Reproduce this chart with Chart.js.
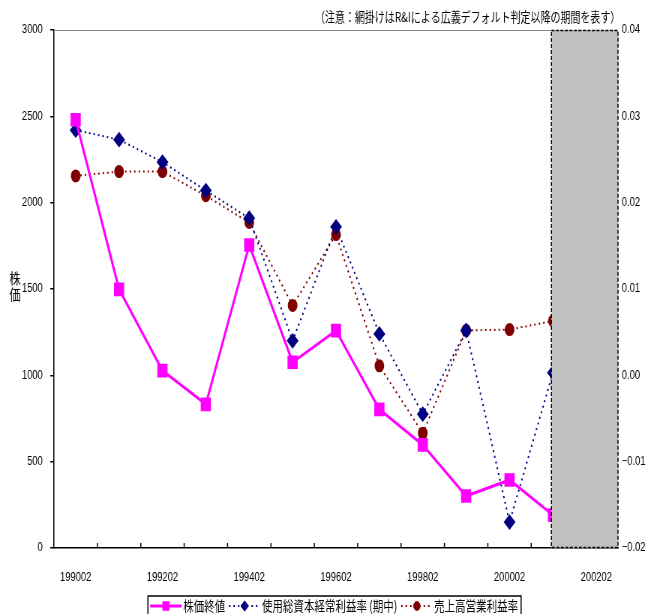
<!DOCTYPE html>
<html>
<head>
<meta charset="utf-8">
<script src="https://cdn.jsdelivr.net/npm/chart.js@4/dist/chart.umd.min.js"></script>
<style>
  html, body { margin: 0; padding: 0; background: #fff; overflow: hidden; }
  #wrap { width: 649px; height: 614px; overflow: hidden; }
  /* the chart is drawn wide and squeezed sideways, like the narrow original */
  #box { width: 865px; height: 614px; transform: scaleX(0.75); transform-origin: 0 0; }
</style>
</head>
<body>
<div id="wrap"><div id="box"><canvas id="grafico"></canvas></div></div>
<script>
const periodos = ['199002','199102','199202','199302','199402','199502','199602','199702','199802','199902','200002','200102','200202']
const kabukaShuuchi = [2480, 1498, 1027, 832, 1755, 1076, 1259, 803, 597, 301, 394, 191, null]
const soushihonRieki = [0.0284, 0.0273, 0.0247, 0.0214, 0.0182, 0.0040, 0.0172, 0.0048, -0.0045, 0.0052, -0.0170, 0.0003, null]
const uriageRieki = [0.0231, 0.0236, 0.0236, 0.0208, 0.0177, 0.0081, 0.0163, 0.0011, -0.0067, 0.0052, 0.0053, 0.0063, null]
const ticksEsq = [0, 500, 1000, 1500, 2000, 2500, 3000]
const ticksDir = [-0.02, -0.01, 0, 0.01, 0.02, 0.03, 0.04]
const inicioSombra = '200102'
const nota = '（注意：網掛けはR&Iによる広義デフォルト判定以降の期間を表す）'

const fonteNum = "'Liberation Sans Narrow', 'Arial Narrow', 'Liberation Sans', Arial, sans-serif"
const fonteJp = "'Noto Sans CJK JP', 'Noto Sans CJK SC', sans-serif"

// gray shaded period, drawn over the lines
const sombra = {
  id: 'sombra',
  beforeDatasetsDraw(chart) {
    const ctx = chart.ctx, a = chart.chartArea
    ctx.save()
    ctx.strokeStyle = '#888'
    ctx.lineWidth = 1
    ctx.beginPath()
    ctx.moveTo(a.left, a.top + 0.5)
    ctx.lineTo(a.right, a.top + 0.5)
    ctx.stroke()
    // x ticks between categories, pointing inward
    const x = chart.scales.x
    ctx.strokeStyle = '#000'
    ctx.lineWidth = 1.5
    for (var i = 1; i < periodos.length; i++) {
      var px = (x.getPixelForValue(i - 1) + x.getPixelForValue(i)) / 2
      ctx.beginPath()
      ctx.moveTo(px, a.bottom)
      ctx.lineTo(px, a.bottom - 5)
      ctx.stroke()
    }
    ctx.restore()
  },
  afterDatasetsDraw(chart) {
    const ctx = chart.ctx, a = chart.chartArea
    const x0 = chart.scales.x.getPixelForValue(periodos.indexOf(inicioSombra)) - 2
    ctx.save()
    ctx.fillStyle = '#C0C0C0'
    ctx.fillRect(x0, a.top, a.right - x0, a.bottom - a.top)
    ctx.strokeStyle = '#000'
    ctx.lineWidth = 1.5
    ctx.setLineDash([4, 2])
    ctx.strokeRect(x0, a.top + 0.5, a.right - x0, a.bottom - a.top - 1)
    ctx.restore()
  }
}

// axis title, note and legend box
const textos = {
  id: 'textos',
  afterDraw(chart) {
    const ctx = chart.ctx, a = chart.chartArea
    ctx.save()
    ctx.fillStyle = '#000'
    ctx.font = '15px ' + fonteJp
    ctx.textAlign = 'center'
    ctx.textBaseline = 'middle'
    var meio = (a.top + a.bottom) / 2
    ctx.fillText('株', 20, meio - 11)
    ctx.fillText('価', 20, meio + 5)

    ctx.font = '13.3px ' + fonteJp
    ctx.textAlign = 'right'
    ctx.fillText(nota, a.right + 3, 17)

    // legend
    var ds = chart.data.datasets
    ctx.font = '14px ' + fonteJp
    var larguraLinha = 42
    var total = 0
    ds.forEach(d => { total += larguraLinha + 2 + ctx.measureText(d.label).width + 5 })
    var esq = (a.left + a.right) / 2 - total / 2
    var y = 606
    ctx.strokeStyle = '#000'
    ctx.lineWidth = 1.5
    ctx.strokeRect(esq - 3, 596, total + 2, 24)
    var px = esq
    ds.forEach(d => {
      ctx.save()
      ctx.strokeStyle = d.borderColor
      ctx.lineWidth = d.borderWidth
      ctx.setLineDash(d.borderDash || [])
      ctx.beginPath()
      ctx.moveTo(px, y)
      ctx.lineTo(px + larguraLinha, y)
      ctx.stroke()
      ctx.restore()
      ctx.save()
      ctx.fillStyle = d.pointBackgroundColor
      ctx.strokeStyle = d.pointBorderColor
      ctx.lineWidth = 1
      Chart.helpers.drawPoint(ctx, {pointStyle: d.pointStyle, radius: d.pointRadius * 0.8, borderWidth: 1}, px + larguraLinha / 2, y)
      ctx.restore()
      ctx.fillStyle = '#000'
      ctx.textAlign = 'left'
      ctx.fillText(d.label, px + larguraLinha + 2, y)
      px += larguraLinha + 2 + ctx.measureText(d.label).width + 5
    })
    ctx.restore()
  }
}

Chart.defaults.font.family = fonteNum
Chart.defaults.font.size = 12.5
Chart.defaults.color = '#000'

var grafico = new Chart(document.getElementById('grafico'), {
  type: 'line',
  data: {
    labels: periodos,
    datasets: [
      {
        label: '株価終値',
        data: kabukaShuuchi,
        yAxisID: 'y',
        borderColor: '#FF00FF',
        backgroundColor: '#FF00FF',
        pointBackgroundColor: '#FF00FF',
        pointBorderColor: '#FF00FF',
        borderWidth: 3,
        pointStyle: 'rect',
        pointRadius: 7.5,
        tension: 0
      },
      {
        label: '使用総資本経常利益率 (期中)',
        data: soushihonRieki,
        yAxisID: 'y1',
        borderColor: '#000080',
        backgroundColor: '#000080',
        pointBackgroundColor: '#000080',
        pointBorderColor: '#000080',
        borderWidth: 2,
        borderDash: [2, 4],
        pointStyle: 'rectRot',
        pointRadius: 6.5,
        tension: 0
      },
      {
        label: '売上高営業利益率',
        data: uriageRieki,
        yAxisID: 'y1',
        borderColor: '#800000',
        backgroundColor: '#800000',
        pointBackgroundColor: '#800000',
        pointBorderColor: '#800000',
        borderWidth: 2,
        borderDash: [2, 4],
        pointStyle: 'circle',
        pointRadius: 5.5,
        tension: 0
      }
    ]
  },
  options: {
    responsive: true,
    maintainAspectRatio: false,
    animation: false,
    layout: { padding: { top: 30, left: 0, right: 0, bottom: 0 } },
    plugins: {
      legend: { display: false },
      tooltip: { enabled: false }
    },
    scales: {
      x: {
        offset: true,
        grid: { display: false },
        border: { display: true, color: '#000', width: 1.5 },
        ticks: {
          autoSkip: false,
          maxRotation: 0,
          padding: 14,
          callback: function (v, i) { return i % 2 == 0 ? this.getLabelForValue(v) : '' }
        },
        afterFit: s => { s.height = 66 }
      },
      y: {
        position: 'left',
        min: 0,
        max: 3000,
        afterBuildTicks: s => { s.ticks = ticksEsq.map(v => ({ value: v })) },
        grid: { drawOnChartArea: false, tickLength: 5, color: '#000', lineWidth: 1.5 },
        border: { color: '#000', width: 1.5 },
        ticks: { padding: 10, callback: v => String(v) },
        afterFit: s => { s.width = 72 }
      },
      y1: {
        position: 'right',
        min: -0.02,
        max: 0.04,
        afterBuildTicks: s => { s.ticks = ticksDir.map(v => ({ value: v })) },
        grid: { display: false, drawTicks: false },
        border: { display: false },
        ticks: {
          padding: 5,
          callback: v => {
            var r = Math.round(v * 100) / 100
            return (r < 0 ? '\u2212' : '') + Math.abs(r).toFixed(2)
          }
        },
        afterFit: s => { s.width = 41 }
      }
    }
  },
  plugins: [sombra, textos]
});
</script>
</body>
</html>
